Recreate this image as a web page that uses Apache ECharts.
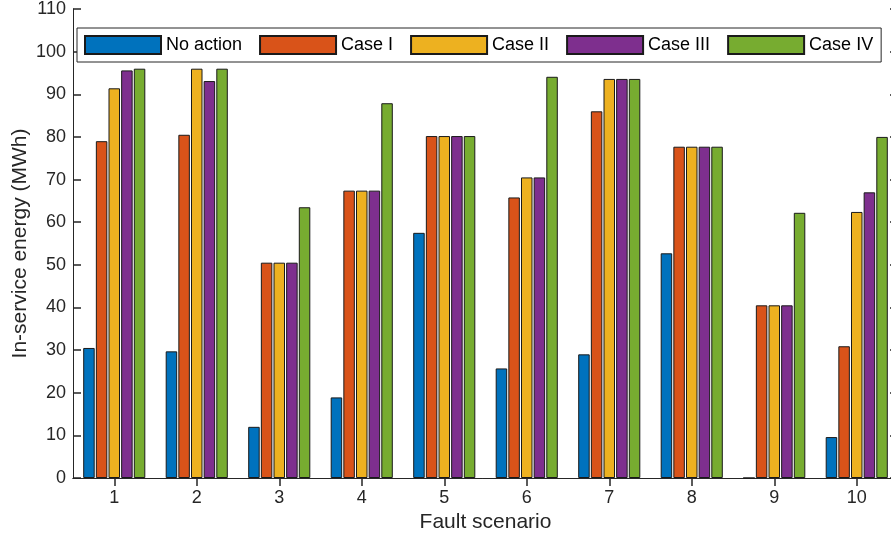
<!DOCTYPE html>
<html>
<head>
<meta charset="utf-8">
<script src="https://cdn.jsdelivr.net/npm/echarts@6/dist/echarts.min.js"></script>
<style>html,body{margin:0;padding:0;background:#fff;}#c{width:891px;height:537px;}</style>
</head>
<body>
<div id="c"></div>
<script>
const categories = ['1','2','3','4','5','6','7','8','9','10'];
const seriesNames = ['No action','Case I','Case II','Case III','Case IV'];
const noAction = [30.5, 29.7, 12.0, 18.9, 57.5, 25.7, 29.0, 52.7, 0, 9.6];
const caseI   = [79.0, 80.5, 50.5, 67.4, 80.2, 65.8, 86.0, 77.7, 40.5, 30.9];
const caseII  = [91.4, 96.0, 50.5, 67.4, 80.2, 70.5, 93.6, 77.7, 40.5, 62.4];
const caseIII = [95.6, 93.1, 50.5, 67.4, 80.2, 70.5, 93.6, 77.7, 40.5, 67.0];
const caseIV  = [96.0, 96.0, 63.5, 87.9, 80.2, 94.1, 93.6, 77.7, 62.2, 80.0];
const yTicks = [0,10,20,30,40,50,60,70,80,90,100,110];

const colors = ['#0072BD','#D95319','#EDB120','#7E2F8E','#77AC30'];
const allData = [noAction, caseI, caseII, caseIII, caseIV];
const font = 'Liberation Sans, Arial, Helvetica, sans-serif';
const axisColor = '#262626';

const chart = echarts.init(document.getElementById('c'), null, {renderer:'canvas'});
chart.setOption({
  animation: false,
  backgroundColor: '#fff',
  textStyle: {fontFamily: font},
  grid: {left: 73, right: -7, top: 9, bottom: 59, containLabel: false, outerBoundsMode: 'none'},
  legend: {
    left: 77, top: 28,
    orient: 'horizontal',
    padding: [7, 8, 7, 7],
    backgroundColor: '#fff',
    borderColor: axisColor, borderWidth: 1,
    itemWidth: 76, itemHeight: 18, itemGap: 17,
    icon: 'rect',
    textStyle: {fontSize: 18, color: '#000', fontFamily: font},
    data: seriesNames
  },
  xAxis: [{
    type: 'category', data: categories, position: 'bottom',
    boundaryGap: true,
    axisLine: {show: true, lineStyle: {color: axisColor, width: 1}},
    axisTick: {show: true, inside: true, length: 8, alignWithLabel: true, lineStyle: {color: axisColor, width: 1.5}},
    axisLabel: {fontSize: 18, color: axisColor, margin: 11, fontFamily: font},
    splitLine: {show: false},
    name: 'Fault scenario', nameLocation: 'middle', nameGap: 34,
    nameTextStyle: {fontSize: 21, color: axisColor, fontFamily: font}
  },{
    type: 'category', data: categories, position: 'top',
    boundaryGap: true,
    axisLine: {show: true, lineStyle: {color: axisColor, width: 1}},
    axisTick: {show: true, inside: true, length: 8, alignWithLabel: true, lineStyle: {color: axisColor, width: 1.5}},
    axisLabel: {show: false}
  }],
  yAxis: [{
    type: 'value', min: 0, max: 110, interval: 10, position: 'left',
    axisLine: {show: true, lineStyle: {color: axisColor, width: 1}},
    axisTick: {show: true, inside: true, length: 8, lineStyle: {color: axisColor, width: 1.5}},
    axisLabel: {fontSize: 18, color: axisColor, margin: 7, fontFamily: font,
      formatter: v => yTicks.includes(v) ? String(v) : ''},
    splitLine: {show: false},
    name: 'In-service energy (MWh)', nameLocation: 'middle', nameGap: 42, nameRotate: 90,
    nameMoveOverlap: false,
    nameTextStyle: {fontSize: 21, color: axisColor, fontFamily: font}
  },{
    type: 'value', min: 0, max: 110, interval: 10, position: 'right',
    axisLine: {show: true, lineStyle: {color: axisColor, width: 1}},
    axisTick: {show: true, inside: true, length: 8, lineStyle: {color: axisColor, width: 1.5}},
    axisLabel: {show: false},
    splitLine: {show: false}
  }],
  series: seriesNames.map((name, i) => ({
    name: name,
    type: 'bar',
    xAxisIndex: 0, yAxisIndex: 0,
    data: allData[i],
    barWidth: 11.5,
    barGap: '10%',
    itemStyle: {color: colors[i], borderColor: '#1a1a1a', borderWidth: 1}
  }))
});
</script>
</body>
</html>
